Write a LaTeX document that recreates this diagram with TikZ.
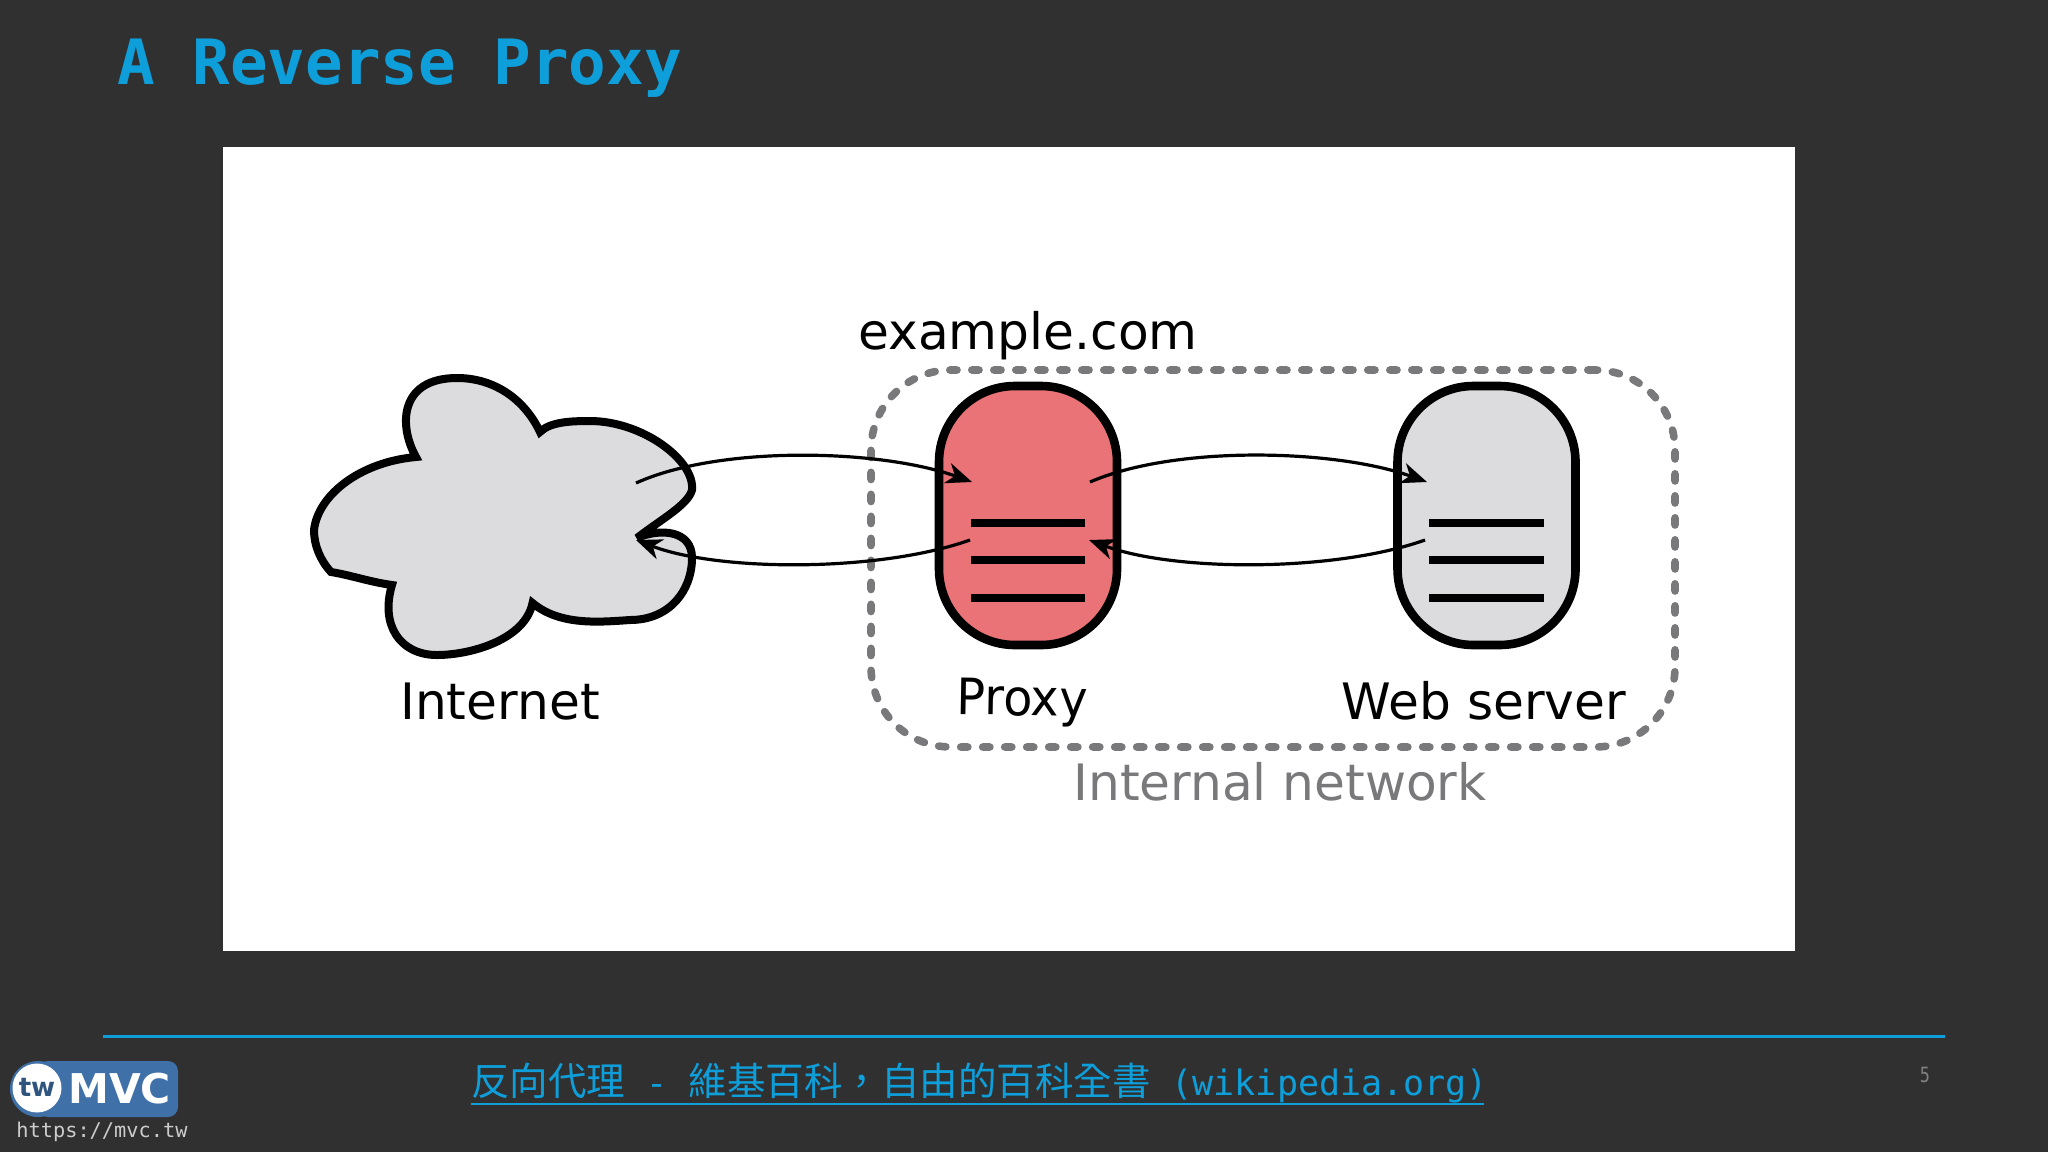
\documentclass[tikz,border=0pt]{standalone}
\usepackage{fontspec}
\usetikzlibrary{arrows.meta}
\setmainfont{DejaVu Sans}
\setmonofont{DejaVu Sans Mono}
\newfontfamily\cjkfont{Noto Sans CJK TC}
\definecolor{bgdark}{HTML}{303030}
\definecolor{accent}{HTML}{0E9FDB}
\definecolor{cloudgrey}{HTML}{DCDBDE}
\definecolor{proxyred}{HTML}{EA7377}
\definecolor{netgrey}{HTML}{79787B}
\definecolor{logoblue}{HTML}{3F70A8}
\tikzset{
  x=.5pt,y=-.5pt,
  lbl/.style={inner sep=0pt,anchor=base,font=\fontsize{25.1}{30}\selectfont},
  pill/.style={draw=black,line width=4.3pt,rounded corners=38pt,minimum width=89pt,minimum height=129.5pt,inner sep=0pt},
  bar/.style={line width=3.9pt,black},
  flow/.style={line width=1.6pt,black,-{Stealth[length=13pt,width=10.5pt,inset=4pt]}},
}
\begin{document}
\begin{tikzpicture}
\useasboundingbox (0,0) rectangle (2048,1152);
\fill[bgdark] (0,0) rectangle (2048,1152);
\fill[white] (223,147) rectangle (1795,951);
\node[inner sep=0pt,anchor=base west,text=accent,font=\ttfamily\bfseries\fontsize{31.25}{36}\selectfont] (title) at (117,84) {A Reverse Proxy};

% dashed network boundary
\node[draw=netgrey,line width=3.8pt,dash pattern=on 3.6pt off 7.4pt,line cap=round,rounded corners=40pt,minimum width=402pt,minimum height=188.5pt,inner sep=0pt] (net) at (1273,558.5) {};

% cloud
\draw[fill=cloudgrey,line width=4pt,line join=miter,miter limit=3] (416,457)
  .. controls (398,425) and (400,378) .. (457,378)
  .. controls (495,378) and (525,400) .. (540,432)
  .. controls (550,422) and (570,421) .. (590,421)
  .. controls (642,421) and (695,460) .. (692,490)
  .. controls (688,505) and (660,520) .. (637,538)
  .. controls (660,528) and (692,530) .. (692,558)
  .. controls (692,590) and (670,620) .. (630,620)
  .. controls (600,622) and (560,626) .. (532.5,603)
  .. controls (525,640) and (470,655) .. (437,655)
  .. controls (400,655) and (380,625) .. (392,585)
  .. controls (370,582) and (350,575) .. (331,572)
  .. controls (320,560) and (314,545) .. (314,530)
  .. controls (318,495) and (360,462) .. (416,457) -- cycle;

% servers
\node[pill,fill=proxyred] (proxy) at (1028,515.5) {};
\node[pill,fill=cloudgrey] (server) at (1486.5,515.5) {};
\foreach \yy in {523,560,598}{
  \draw[bar] (971,\yy) -- (1085,\yy);
  \draw[bar] (1429,\yy) -- (1544,\yy);
}

% connector ends
\coordinate (cloudOut) at (636,483);
\coordinate (cloudIn) at (636,540);
\coordinate (proxyIn) at (972,482);
\coordinate (proxyOut) at (970,540);
\coordinate (proxyOutR) at (1090,482);
\coordinate (proxyInR) at (1089,540);
\coordinate (serverIn) at (1427,482);
\coordinate (serverOut) at (1425,540);
\draw[flow] (cloudOut) .. controls (720,445) and (880,449) .. (proxyIn);
\draw[flow] (proxyOut) .. controls (880,572) and (720,572) .. (cloudIn);
\draw[flow] (proxyOutR) .. controls (1175,445) and (1335,449) .. (serverIn);
\draw[flow] (serverOut) .. controls (1335,572) and (1175,572) .. (proxyInR);

% labels
\node[lbl] (lexample) at (1028,349) {example.com};
\node[lbl] (linternet) at (500,719.5) {Internet};
\node[lbl,rotate=-1,xscale=.95] (lproxy) at (1022,715.5) {Proxy};
\node[lbl] (lweb) at (1484,719.5) {Web server};
\node[lbl,text=netgrey] (lnet) at (1280,800) {Internal network};

% footer
\coordinate (ruleL) at (103,1036);
\coordinate (ruleR) at (1945,1036);
\draw[accent,line width=1.5pt] (ruleL) -- (ruleR);
\node[inner sep=0pt,anchor=base west,text=accent,font=\fontsize{17.5}{20}\selectfont] (link) at (471,1095)
  {{\cjkfont\fontsize{19.25}{20}\selectfont 反向代理}\texttt{ - }{\cjkfont\fontsize{19.25}{20}\selectfont 維基百科，自由的百科全書}\texttt{ (wikipedia.org)}};
\coordinate (ulL) at (471,1104);
\coordinate (ulR) at (1484,1104);
\draw[accent,line width=1.4pt] (ulL) -- (ulR);
\node[inner sep=0pt,text=gray,font=\ttfamily\fontsize{10.5}{12}\selectfont,xscale=.8] (pagenum) at (1925,1075) {5};

% logo
\fill[logoblue] (38,1089) circle[radius=28];
\fill[logoblue,rounded corners=5pt] (38,1061) rectangle (178,1117);
\fill[white] (37,1088) circle[radius=24.5];
\node[inner sep=0pt,text=logoblue!75!black,font=\bfseries\fontsize{13}{16}\selectfont] (tw) at (37,1087) {tw};
\node[inner sep=0pt,anchor=base west,text=white,font=\bfseries\fontsize{20.5}{24}\selectfont] (mvc) at (68,1103) {MVC};
\node[inner sep=0pt,anchor=base west,text=black!20,font=\ttfamily\fontsize{10.15}{12}\selectfont] (url) at (16,1137) {https://mvc.tw};
\end{tikzpicture}
\end{document}
